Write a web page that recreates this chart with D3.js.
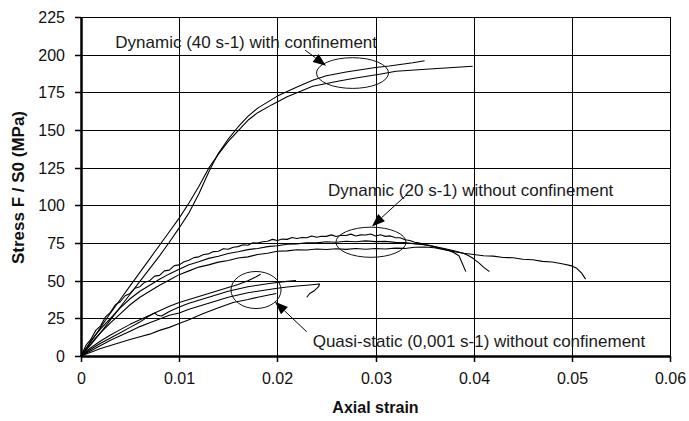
<!DOCTYPE html>
<html><head><meta charset="utf-8">
<script src="https://cdn.jsdelivr.net/npm/d3@7"></script>
<style>
html,body{margin:0;padding:0;background:#fff;}
svg{display:block;}
text{font-family:"Liberation Sans",Arial,sans-serif;}
</style></head>
<body>
<script>
// ---- data (strain, stress MPa) ----
const xTicks = [0, 0.01, 0.02, 0.03, 0.04, 0.05, 0.06];
const xTickLabels = ["0", "0.01", "0.02", "0.03", "0.04", "0.05", "0.06"];
const yTicks = [0, 25, 50, 75, 100, 125, 150, 175, 200, 225];
const xTitle = "Axial strain";
const yTitle = "Stress F / S0 (MPa)";
const labels = ["Dynamic (40 s-1) with confinement", "Dynamic (20 s-1) without confinement", "Quasi-static (0,001 s-1) without confinement"];

const dyn40a = [[0,0],[0.001,7.5],[0.002,15.5],[0.003,24],[0.004,32.5],[0.005,41],[0.006,49.5],[0.007,58],[0.008,66.5],[0.009,75.5],[0.010,85],[0.011,95],[0.012,107.5],[0.013,122],[0.0135,128.5],[0.014,134.5],[0.015,144],[0.016,152],[0.017,159],[0.018,164.5],[0.020,172.5],[0.022,178.5],[0.0236,183],[0.025,186],[0.027,188.5],[0.030,191.5],[0.0314,192.5],[0.0338,194.6],[0.035,196]];
const dyn40b = [[0,0],[0.001,9.5],[0.002,19],[0.003,28.5],[0.004,37.5],[0.005,46.5],[0.006,55.5],[0.007,64.5],[0.008,73.5],[0.009,82.5],[0.010,91.5],[0.011,101.5],[0.012,112.5],[0.013,124.5],[0.014,134],[0.015,142.5],[0.016,149.5],[0.0171,157],[0.018,161.5],[0.0195,167],[0.021,172],[0.0236,179],[0.0263,182.5],[0.028,184.5],[0.0304,187],[0.0321,189],[0.0355,190.5],[0.0375,191.3],[0.0399,192.3]];

const dyn20a = [[0,0],[0.0005,7],[0.001,11],[0.0015,17],[0.002,20],[0.0025,26],[0.003,29],[0.0035,34],[0.004,36],[0.0045,40],[0.005,41.5],[0.0055,45],[0.006,46],[0.0065,49],[0.007,50],[0.0075,53],[0.008,53.5],[0.0085,56.5],[0.009,57],[0.0095,60],[0.010,60.5],[0.0105,62.6],[0.011,63.5],[0.0115,65.3],[0.012,65.8],[0.0125,67.4],[0.013,67.8],[0.0135,69.3],[0.014,69.5],[0.0145,71.2],[0.015,70.9],[0.0155,72.2],[0.016,72.6],[0.0165,73.8],[0.017,73.5],[0.0175,75.2],[0.018,74.9],[0.0185,75.8],[0.019,76.2],[0.0195,77.4],[0.020,76.7],[0.0205,77.6],[0.021,77.4],[0.0215,78.7],[0.022,78],[0.0225,78.6],[0.023,78.5],[0.0235,79.7],[0.024,78.8],[0.0245,79.5],[0.025,79.4],[0.0255,80.4],[0.026,79.3],[0.0265,80.1],[0.027,80],[0.0275,80.9],[0.028,79.7],[0.0285,80.4],[0.029,80.3],[0.0295,81],[0.030,79.7],[0.0305,80.5],[0.031,79.4],[0.0315,79.7],[0.032,78.6],[0.0325,78.5],[0.033,77.2],[0.0335,76.7],[0.034,75.5],[0.0345,75],[0.035,73.9],[0.0355,73.4],[0.036,72.6],[0.0365,71.7],[0.037,70.9],[0.0375,70],[0.038,68.5],[0.0385,66.5],[0.0388,62],[0.0392,56]];
const dyn20b = [[0,0],[0.0005,5],[0.001,10],[0.0015,14],[0.002,18],[0.003,25],[0.004,32],[0.005,38],[0.006,43],[0.007,47],[0.008,51],[0.009,54.5],[0.010,57.5],[0.011,60.5],[0.012,62.5],[0.013,64.8],[0.014,66.2],[0.015,68],[0.016,69.2],[0.017,70.6],[0.018,71.4],[0.019,72.6],[0.020,73.2],[0.021,74.2],[0.022,74.4],[0.023,75.2],[0.024,75.1],[0.025,75.8],[0.026,75.5],[0.027,76.2],[0.028,75.8],[0.029,76.4],[0.030,75.9],[0.031,76.1],[0.032,75.4],[0.033,75.3],[0.034,74.4],[0.035,73.8],[0.036,72.6],[0.037,71.4],[0.038,69.8],[0.039,68],[0.0395,66.5],[0.040,64.5],[0.0405,62],[0.041,59],[0.0416,56]];
const dyn20c = [[0,0],[0.0005,4],[0.001,8],[0.0015,12],[0.002,15.5],[0.003,22],[0.004,28],[0.005,34],[0.006,39],[0.007,43],[0.008,47],[0.009,50.5],[0.010,54],[0.011,56.5],[0.012,59],[0.013,60.5],[0.014,62.3],[0.015,63.4],[0.016,65],[0.017,65.8],[0.018,67.4],[0.019,68.2],[0.020,69.5],[0.021,69.8],[0.022,70.5],[0.023,70.4],[0.024,71],[0.025,70.7],[0.026,71.2],[0.027,70.8],[0.028,71.3],[0.029,70.9],[0.030,71.4],[0.031,71],[0.032,71.6],[0.033,71.4],[0.034,72.2],[0.035,72.3],[0.036,71.8],[0.037,70.6],[0.038,69.3],[0.039,68.2],[0.040,67.4],[0.041,66.5],[0.042,66.3],[0.043,65.4],[0.044,65.2],[0.045,64.2],[0.046,63.9],[0.047,62.8],[0.048,62.4],[0.049,61.2],[0.050,59.8],[0.0505,58.2],[0.051,55],[0.0514,51]];

const qs1 = [[0,0],[0.0005,3],[0.001,5.5],[0.002,10],[0.003,14],[0.004,17.5],[0.005,21],[0.006,24],[0.007,27],[0.008,30],[0.009,33],[0.010,35.5],[0.011,37.5],[0.012,39.5],[0.013,41.5],[0.014,43.5],[0.015,45.5],[0.016,47.5],[0.017,50],[0.0178,52.5],[0.0183,54.3]];
const qs2 = [[0,0],[0.001,4.5],[0.002,8.5],[0.003,12],[0.004,15.5],[0.005,19],[0.006,22.5],[0.0068,26],[0.0075,28.5],[0.0078,27],[0.0082,26.5],[0.009,29.5],[0.010,32.5],[0.011,35],[0.012,37],[0.013,39],[0.014,41],[0.015,43],[0.016,44.5],[0.017,46],[0.018,47],[0.019,48],[0.020,48.8],[0.021,49.5],[0.0219,50]];
const qs3 = [[0,0],[0.001,3.5],[0.002,7],[0.003,10.5],[0.004,13.5],[0.005,16.5],[0.006,19.5],[0.007,22],[0.008,24.5],[0.009,27],[0.010,28.5],[0.011,31],[0.012,33],[0.013,35],[0.014,37],[0.015,39],[0.016,40.5],[0.017,42],[0.018,43],[0.019,44],[0.020,45],[0.021,45.8],[0.022,46.5],[0.023,47],[0.0238,47.5],[0.0243,47.8],[0.0242,46],[0.0238,43.5],[0.0233,41.5],[0.0230,39]];
const qs4 = [[0,0],[0.001,2.5],[0.002,5],[0.003,7],[0.004,9],[0.005,11],[0.006,12.8],[0.007,14.5],[0.008,17],[0.009,19],[0.010,21.5],[0.011,24],[0.0124,28],[0.014,32],[0.0155,35.5],[0.017,37.5],[0.018,39],[0.019,40.3],[0.0199,41.5]];

const curves = [dyn40a, dyn40b, dyn20a, dyn20b, dyn20c, qs1, qs2, qs3, qs4];

// annotation placement (data units)
const labelPos = [[0.0035, 204.2], [0.02516, 105.9], [0.0236, 5.8]];
const ellipses = [[0.02766, 187.8, 0.00367, 10.2], [0.02954, 75.5, 0.00357, 10], [0.01783, 43.8, 0.00255, 12.3]];
const arrows = [[[0.02282, 203.1], [0.02496, 192.7]], [[0.0331, 106.6], [0.02964, 86]], [[0.02299, 16.1], [0.01976, 36]]];

// ---- drawing ----
const W = 689, H = 421;
const svg = d3.select("body").append("svg").attr("width", W).attr("height", H);
const x = d3.scaleLinear().domain([0, 0.06]).range([81, 670]);
const y = d3.scaleLinear().domain([0, 225]).range([356, 17]);
const xr = x.copy().interpolate(d3.interpolateRound);
const yr = y.copy().interpolate(d3.interpolateRound);

// grid
const grid = svg.append("g").attr("stroke", "#000").attr("stroke-width", 1).attr("shape-rendering", "crispEdges");
grid.selectAll("line.h").data(yTicks).join("line")
  .attr("x1", xr(0)).attr("x2", xr(0.06)).attr("y1", d => yr(d) + 0.5).attr("y2", d => yr(d) + 0.5);
grid.selectAll("line.v").data(xTicks).join("line")
  .attr("y1", yr(225)).attr("y2", yr(0)).attr("x1", d => xr(d) + 0.5).attr("x2", d => xr(d) + 0.5);

// axes
const xAxis = d3.axisBottom(xr).tickValues(xTicks).tickFormat((d, i) => xTickLabels[i]).tickSize(6).tickSizeOuter(0).tickPadding(11);
const yAxis = d3.axisLeft(yr).tickValues(yTicks).tickSize(6).tickSizeOuter(0).tickPadding(10);
const gx = svg.append("g").attr("transform", `translate(0,${yr(0)})`).call(xAxis);
const gy = svg.append("g").attr("transform", `translate(${xr(0)},0)`).call(yAxis);
[gx, gy].forEach(g => {
  g.selectAll("text").attr("font-size", 16).attr("font-family", '"Liberation Sans",Arial,sans-serif').attr("fill", "#111");
  g.selectAll(".tick line").attr("stroke", "#000").attr("stroke-width", 1.5);
  g.select(".domain").attr("stroke", "#000").attr("stroke-width", 2.5);
});

// curves
const line = d3.line().x(d => x(d[0])).y(d => y(d[1]));
svg.append("g").attr("fill", "none").attr("stroke", "#000").attr("stroke-width", 1.1).attr("stroke-linejoin", "round")
  .selectAll("path").data(curves).join("path").attr("d", line);

// ellipses
svg.append("g").attr("fill", "none").attr("stroke", "#111").attr("stroke-width", 1)
  .selectAll("ellipse").data(ellipses).join("ellipse")
  .attr("cx", d => x(d[0])).attr("cy", d => y(d[1]))
  .attr("rx", d => x(d[2]) - x(0)).attr("ry", d => y(0) - y(d[3]));

// arrows
const ag = svg.append("g");
arrows.forEach(([t, h]) => {
  const x1 = x(t[0]), y1 = y(t[1]), x2 = x(h[0]), y2 = y(h[1]);
  const ang = Math.atan2(y2 - y1, x2 - x1), L = 13, Wd = 5;
  const bx = x2 - L * Math.cos(ang), by = y2 - L * Math.sin(ang);
  ag.append("line").attr("x1", x1).attr("y1", y1).attr("x2", bx).attr("y2", by).attr("stroke", "#000").attr("stroke-width", 1);
  ag.append("path").attr("fill", "#000")
    .attr("d", `M${x2},${y2}L${bx + Wd * Math.sin(ang)},${by - Wd * Math.cos(ang)}L${bx - Wd * Math.sin(ang)},${by + Wd * Math.cos(ang)}Z`);
});

// annotation labels
svg.append("g").selectAll("text").data(labels).join("text")
  .attr("x", (d, i) => x(labelPos[i][0])).attr("y", (d, i) => y(labelPos[i][1]))
  .attr("font-size", 17).attr("fill", "#1a1a1a").text(d => d);

// axis titles
svg.append("text").attr("x", (xr(0) + xr(0.06)) / 2).attr("y", 413).attr("text-anchor", "middle")
  .attr("font-size", 16).attr("font-weight", "bold").attr("fill", "#111").text(xTitle);
svg.append("text").attr("transform", `translate(24,${(yr(0) + yr(225)) / 2 + 1}) rotate(-90)`).attr("text-anchor", "middle")
  .attr("font-size", 17).attr("font-weight", "bold").attr("fill", "#111").text(yTitle);
</script>
</body></html>
